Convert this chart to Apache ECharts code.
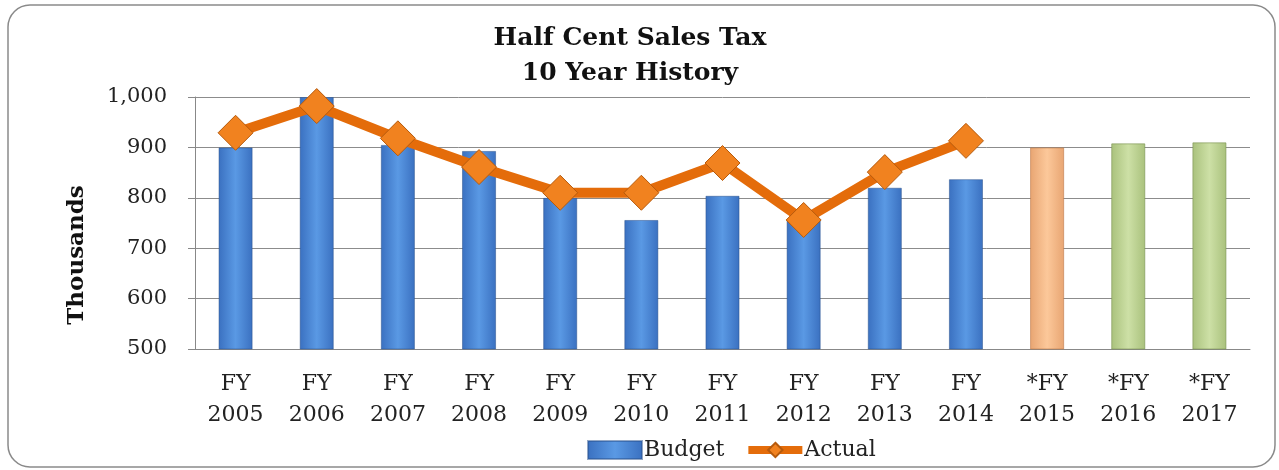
<!DOCTYPE html>
<html>
<head>
<meta charset="utf-8">
<script src="https://cdn.jsdelivr.net/npm/echarts@6/dist/echarts.min.js"></script>
<style>
html,body{margin:0;padding:0;background:#fff;}
#chart{width:1279px;height:470px;}
</style>
</head>
<body>
<div id="chart"></div>
<script>
const categories = ['FY 2005','FY 2006','FY 2007','FY 2008','FY 2009','FY 2010','FY 2011','FY 2012','FY 2013','FY 2014','*FY 2015','*FY 2016','*FY 2017'];
const budget = [900, 1000, 905, 893, 800, 756, 804, 755, 820, 837, 900, 908, 910];
const actual = [929, 982, 918, 861, 810, 810, 869, 756, 851, 913];
const yTicks = { min: 500, max: 1000, interval: 100 };

function hGrad(edge, mid) {
  return new echarts.graphic.LinearGradient(0, 0, 1, 0, [
    { offset: 0, color: edge }, { offset: 0.5, color: mid }, { offset: 1, color: edge }
  ]);
}
const blue = hGrad('#3a70c0', '#5a99e4');
const orangeBar = hGrad('#e8a572', '#fcc89a');
const greenBar = hGrad('#a9c17c', '#cde0a6');

const chart = echarts.init(document.getElementById('chart'));
const font = 'DejaVu Serif';
chart.setOption({
  animation: false,
  backgroundColor: '#fff',
  title: {
    text: 'Half Cent Sales Tax\n10 Year History',
    left: 625, top: 16, textAlign: 'center',
    textStyle: { fontFamily: font, fontWeight: 'bold', fontSize: 25, lineHeight: 35, color: '#111' }
  },
  graphic: [{
    type: 'rect', shape: { x: 8, y: 5, width: 1267, height: 462, r: 22 },
    style: { fill: 'none', stroke: '#8a8a8a', lineWidth: 1.5 }, silent: true, z: -1
  }],
  legend: {
    left: 582, top: 434, itemWidth: 54, itemHeight: 18, itemGap: 20,
    textStyle: { fontFamily: font, fontSize: 22, color: '#222', padding: [0, 0, 0, -3] },
    data: [
      { name: 'Budget', icon: 'rect' },
      { name: 'Actual', lineStyle: { width: 8 } }
    ]
  },
  grid: { left: 195, right: 29, top: 97, bottom: 121 },
  xAxis: {
    type: 'category', data: categories,
    axisLine: { lineStyle: { color: '#888', width: 1 } },
    axisTick: { length: 8, lineStyle: { color: '#888' } },
    axisLabel: {
      margin: 20, fontFamily: font, fontSize: 22, lineHeight: 31, color: '#222',
      formatter: v => v.replace(' ', '\n')
    }
  },
  yAxis: {
    type: 'value', min: yTicks.min, max: yTicks.max, interval: yTicks.interval,
    name: 'Thousands', nameLocation: 'middle', nameGap: 106,
    nameTextStyle: { fontFamily: font, fontWeight: 'bold', fontSize: 23, color: '#111', padding: [0, 64, 0, 0] },
    axisLine: { show: true, lineStyle: { color: '#888' } },
    axisTick: { show: true, length: 7, lineStyle: { color: '#888' } },
    splitLine: { lineStyle: { color: '#8c8c8c', width: 1 } },
    axisLabel: {
      margin: 28, fontFamily: font, fontSize: 21, color: '#222',
      formatter: v => v.toLocaleString('en-US')
    }
  },
  series: [
    {
      name: 'Budget', type: 'bar', barWidth: '42%',
      itemStyle: { color: blue, borderColor: 'rgba(40,80,140,0.5)', borderWidth: 1 },
      data: budget.map((v, i) => i < 10 ? v : {
        value: v,
        itemStyle: { color: i === 10 ? orangeBar : greenBar, borderColor: i === 10 ? 'rgba(190,120,70,0.6)' : 'rgba(120,145,80,0.6)' }
      })
    },
    {
      name: 'Actual', type: 'line', data: actual, z: 5,
      symbol: 'diamond', symbolSize: 35,
      lineStyle: { color: '#e46c0a', width: 10 },
      itemStyle: { color: '#f1821f', borderColor: '#b65a0c', borderWidth: 1 }
    }
  ]
});
</script>
</body>
</html>
